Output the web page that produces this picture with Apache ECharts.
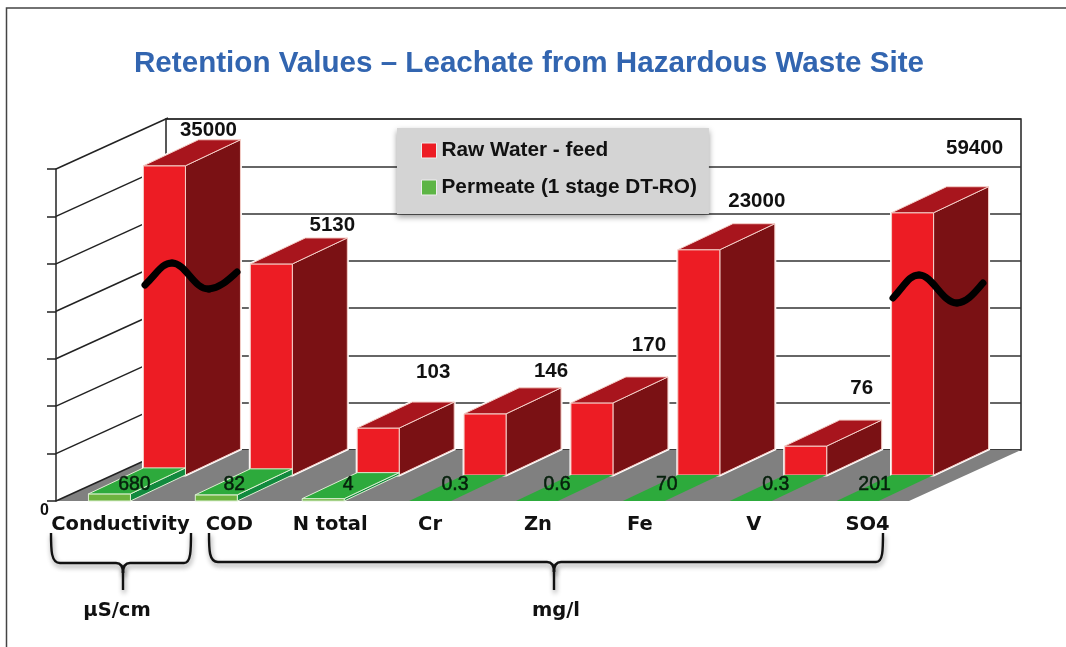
<!DOCTYPE html>
<html>
<head>
<meta charset="utf-8">
<style>
  html, body { margin: 0; padding: 0; background: #fff; }
  #chart { width: 1066px; height: 647px; }
</style>
<script src="https://cdn.jsdelivr.net/npm/echarts@6/dist/echarts.min.js"></script>
</head>
<body>
<div id="chart"></div>
<script>
const categories = ['Conductivity', 'COD', 'N total', 'Cr', 'Zn', 'Fe', 'V', 'SO4']
// printed values, the original bars are not to scale with them
const rawLabels = ['35000', '5130', '103', '146', '170', '23000', '76', '59400']
const permeateLabels = ['680', '82', '4', '0.3', '0.6', '70', '0.3', '201']
// drawn bar heights, in gridline steps
const rawHeights = [6.52, 4.45, 0.99, 1.29, 1.52, 4.75, 0.61, 5.53]
const permeateHeights = [0.15, 0.13, 0.05, 0, 0, 0, 0, 0]
const yTicks = [0, 1, 2, 3, 4, 5, 6, 7]

// hand placed text in the original
const catNudge = [11, 13, 7, 0, 1, -4, 3, 10]
const rawLabelDx = [44, 61, 55, 66, 57, 58, 56, 62]
const rawLabelDy = [-9, -13, -30, -16, -32, -22, -32, -38]
const permLabelDx = [25, 18, 25, 25, 20, 23, 25, 17]

const DEPTH_X = 112, DEPTH_Y = -51
const ROW_X = 55, ROW_Y = -26
const BAR_W = 42

const FONT = '"Liberation Sans", Arial, sans-serif'
const HEAVY = '"DejaVu Sans", sans-serif'

function poly(points, fill, stroke, lineWidth) {
  return { type: 'polygon', shape: { points }, style: { fill, stroke: stroke || null, lineWidth: lineWidth || 0 } }
}

// one box: front face, top and right side, pushed back by (ox, oy)
function box(api, ox, oy, colors) {
  const i = api.value(0)
  const base = api.coord([i, 0])
  const top = api.coord([i, api.value(1)])
  const x0 = base[0] + ox - BAR_W / 2, x1 = x0 + BAR_W
  const yb = base[1] + oy, yt = top[1] + oy
  const raised = yb - yt > 0.5
  const hull = [[x0, yb], [x1, yb], [x1 + ROW_X, yb + ROW_Y], [x1 + ROW_X, yt + ROW_Y], [x0 + ROW_X, yt + ROW_Y], [x0, yt]]
  const children = []
  if (colors.halo && raised) children.push(poly(hull, colors.halo, colors.halo, 3))
  if (raised) {
    children.push(poly([[x1, yb], [x1 + ROW_X, yb + ROW_Y], [x1 + ROW_X, yt + ROW_Y], [x1, yt]], colors.side, colors.edge, 1))
    children.push(poly([[x0, yb], [x1, yb], [x1, yt], [x0, yt]], colors.front, colors.edge, 1))
  }
  children.push(poly([[x0, yt], [x1, yt], [x1 + ROW_X, yt + ROW_Y], [x0 + ROW_X, yt + ROW_Y]], colors.top, raised ? colors.edge : null, raised ? 1 : 0))
  return { base, top, children }
}

function renderRaw(params, api) {
  const b = box(api, ROW_X, ROW_Y, { front: '#ED1C24', side: '#7A1114', top: '#A8151D', edge: '#F5CFC8', halo: '#FFFFFF' })
  const i = api.value(0)
  b.children.push({
    type: 'text',
    style: {
      text: rawLabels[i], x: b.base[0] + rawLabelDx[i] + ROW_X, y: b.top[1] + 2 * ROW_Y + rawLabelDy[i],
      align: 'center', verticalAlign: 'middle', fill: '#111', font: 'bold 20.5px ' + FONT
    }
  })
  return { type: 'group', children: b.children }
}

function renderPermeate(params, api) {
  const b = box(api, 0, 0, { front: '#6DB33F', side: '#128A3E', top: '#2DAA3C', edge: '#DDEFD2' })
  const i = api.value(0)
  b.children.push({
    type: 'text', z2: 5,
    style: {
      text: permeateLabels[i], x: b.base[0] + permLabelDx[i], y: b.base[1] - 16,
      align: 'center', verticalAlign: 'middle', fill: '#06200c', stroke: '#06200c', lineWidth: 0.5, font: '19.5px ' + FONT
    }
  })
  return { type: 'group', children: b.children }
}

// floor and the slanted lines of the left wall
function renderWall(params, api) {
  const g = params.coordSys
  const floorW = g.width - 2
  const children = [poly([
    [g.x, g.y + g.height], [g.x + floorW, g.y + g.height],
    [g.x + floorW + DEPTH_X, g.y + g.height + DEPTH_Y], [g.x + DEPTH_X, g.y + g.height + DEPTH_Y]
  ], '#808080')]
  yTicks.forEach(t => {
    const p = api.coord([0, t])
    children.push({
      type: 'line',
      shape: { x1: g.x, y1: p[1], x2: g.x + DEPTH_X, y2: p[1] + DEPTH_Y },
      style: { stroke: '#222', lineWidth: 1.5 }
    })
  })
  return { type: 'group', children }
}

const braceStyle = { fill: null, stroke: '#111', lineWidth: 2.4, shadowBlur: 5, shadowColor: 'rgba(0,0,0,0.45)', shadowOffsetX: 1, shadowOffsetY: 3 }
const breakStyle = { fill: null, stroke: '#000', lineWidth: 7, lineCap: 'round' }

function curve(x1, y1, cpx1, cpy1, cpx2, cpy2, x2, y2, style) {
  return { type: 'bezierCurve', z: 50, shape: { x1, y1, cpx1, cpy1, cpx2, cpy2, x2, y2 }, style }
}

function brace(left, right, stem, y) {
  return [
    curve(left, 533, left, 550, left, y, left + 9, y, braceStyle),
    { type: 'line', z: 50, shape: { x1: left + 9, y1: y, x2: stem - 7, y2: y }, style: braceStyle },
    curve(stem - 7, y, stem - 3, y, stem, y + 3, stem, y + 10, braceStyle),
    curve(stem + 7, y, stem + 3, y, stem, y + 3, stem, y + 10, braceStyle),
    { type: 'line', z: 50, shape: { x1: stem, y1: y + 8, x2: stem, y2: 590 }, style: braceStyle },
    { type: 'line', z: 50, shape: { x1: stem + 7, y1: y, x2: right - 7, y2: y }, style: braceStyle },
    curve(right, 533, right, 550, right, y, right - 7, y, braceStyle)
  ]
}

const notes = [
  ...brace(51, 191, 123, 563),
  ...brace(209, 883, 554, 562),
  { type: 'text', z: 50, style: { text: 'µS/cm', x: 117, y: 611, align: 'center', verticalAlign: 'middle', fill: '#111', font: 'bold 19.5px ' + HEAVY } },
  { type: 'text', z: 50, style: { text: 'mg/l', x: 556, y: 611, align: 'center', verticalAlign: 'middle', fill: '#111', font: 'bold 19.5px ' + HEAVY } },
  // axis break marks on the two tall bars
  curve(145, 285, 158, 272, 162, 263, 172, 263, breakStyle),
  curve(172, 263, 186, 263, 194, 290, 209, 289, breakStyle),
  curve(209, 289, 220, 288, 228, 280, 237, 272, breakStyle),
  curve(893, 298, 905, 285, 909, 275, 919, 275, breakStyle),
  curve(919, 275, 933, 275, 942, 303, 957, 303, breakStyle),
  curve(957, 303, 968, 302, 975, 292, 983, 283, breakStyle),
  // page frame, left and top only
  { type: 'polyline', z: 50, shape: { points: [[6.5, 647], [6.5, 8], [1066, 8]] }, style: { fill: null, stroke: '#444', lineWidth: 1.5 } }
]

const chart = echarts.init(document.getElementById('chart'), null, { renderer: 'canvas' })
chart.setOption({
  animation: false,
  backgroundColor: '#fff',
  title: {
    text: 'Retention Values – Leachate from Hazardous Waste Site',
    left: 134, top: 49, padding: 0,
    textStyle: { fontFamily: FONT, fontWeight: 'bold', fontSize: 29.6, color: '#3265B0' }
  },
  legend: {
    left: 397, top: 128, orient: 'vertical', icon: 'rect',
    padding: [12, 12, 16, 24],
    itemWidth: 15, itemHeight: 15, itemGap: 16,
    backgroundColor: '#D4D4D4',
    shadowBlur: 6, shadowColor: 'rgba(0,0,0,0.4)', shadowOffsetY: 3,
    textStyle: { fontFamily: FONT, fontWeight: 'bold', fontSize: 20.8, color: '#111' },
    itemStyle: { borderColor: '#EEE', borderWidth: 1 },
    data: ['Raw Water - feed', 'Permeate (1 stage DT-RO)']
  },
  grid: [
    { left: 56, top: 169, width: 855, height: 332 },
    { left: 166, top: 119, width: 855, height: 331, show: true, borderColor: '#222', borderWidth: 1.5, backgroundColor: 'transparent' }
  ],
  xAxis: [
    {
      type: 'category', gridIndex: 0,
      data: categories.map((c, i) => ({
        value: c,
        textStyle: { padding: catNudge[i] > 0 ? [0, 0, 0, catNudge[i] * 2] : [0, -catNudge[i] * 2, 0, 0] }
      })),
      axisTick: { show: false },
      axisLine: { show: false },
      axisLabel: { interval: 0, margin: 14, fontFamily: HEAVY, fontWeight: 'bold', fontSize: 19.5, color: '#111' }
    },
    { type: 'category', gridIndex: 1, data: categories, axisTick: { show: false }, axisLabel: { show: false }, axisLine: { show: false } }
  ],
  yAxis: [
    {
      type: 'value', gridIndex: 0, min: 0, max: 7, interval: 1,
      splitLine: { show: false },
      axisLine: { show: true, lineStyle: { color: '#222', width: 1.5 } },
      axisTick: { show: true, length: 9, lineStyle: { color: '#222', width: 1.5 } },
      axisLabel: { margin: 7, fontFamily: FONT, fontWeight: 'bold', fontSize: 16, color: '#111', verticalAlign: 'top', padding: [2, 0, 0, 0], formatter: v => (v === 0 ? '0' : '') }
    },
    {
      type: 'value', gridIndex: 1, min: 0, max: 7, interval: 1,
      axisLine: { show: false }, axisTick: { show: false }, axisLabel: { show: false },
      splitLine: { show: true, lineStyle: { color: '#333', width: 1.5 } }
    }
  ],
  graphic: { elements: notes },
  series: [
    { type: 'custom', name: 'wall', xAxisIndex: 0, yAxisIndex: 0, z: 1, silent: true, renderItem: renderWall, data: [[0, 0]] },
    {
      type: 'custom', name: 'Raw Water - feed', xAxisIndex: 0, yAxisIndex: 0, z: 3, renderItem: renderRaw,
      itemStyle: { color: '#ED1C24' }, encode: { x: 0, y: 1 },
      data: rawHeights.map((h, i) => [i, h])
    },
    {
      type: 'custom', name: 'Permeate (1 stage DT-RO)', xAxisIndex: 0, yAxisIndex: 0, z: 4, renderItem: renderPermeate,
      itemStyle: { color: '#5DB545' }, encode: { x: 0, y: 1 },
      data: permeateHeights.map((h, i) => [i, h])
    }
  ]
})
</script>
</body>
</html>
